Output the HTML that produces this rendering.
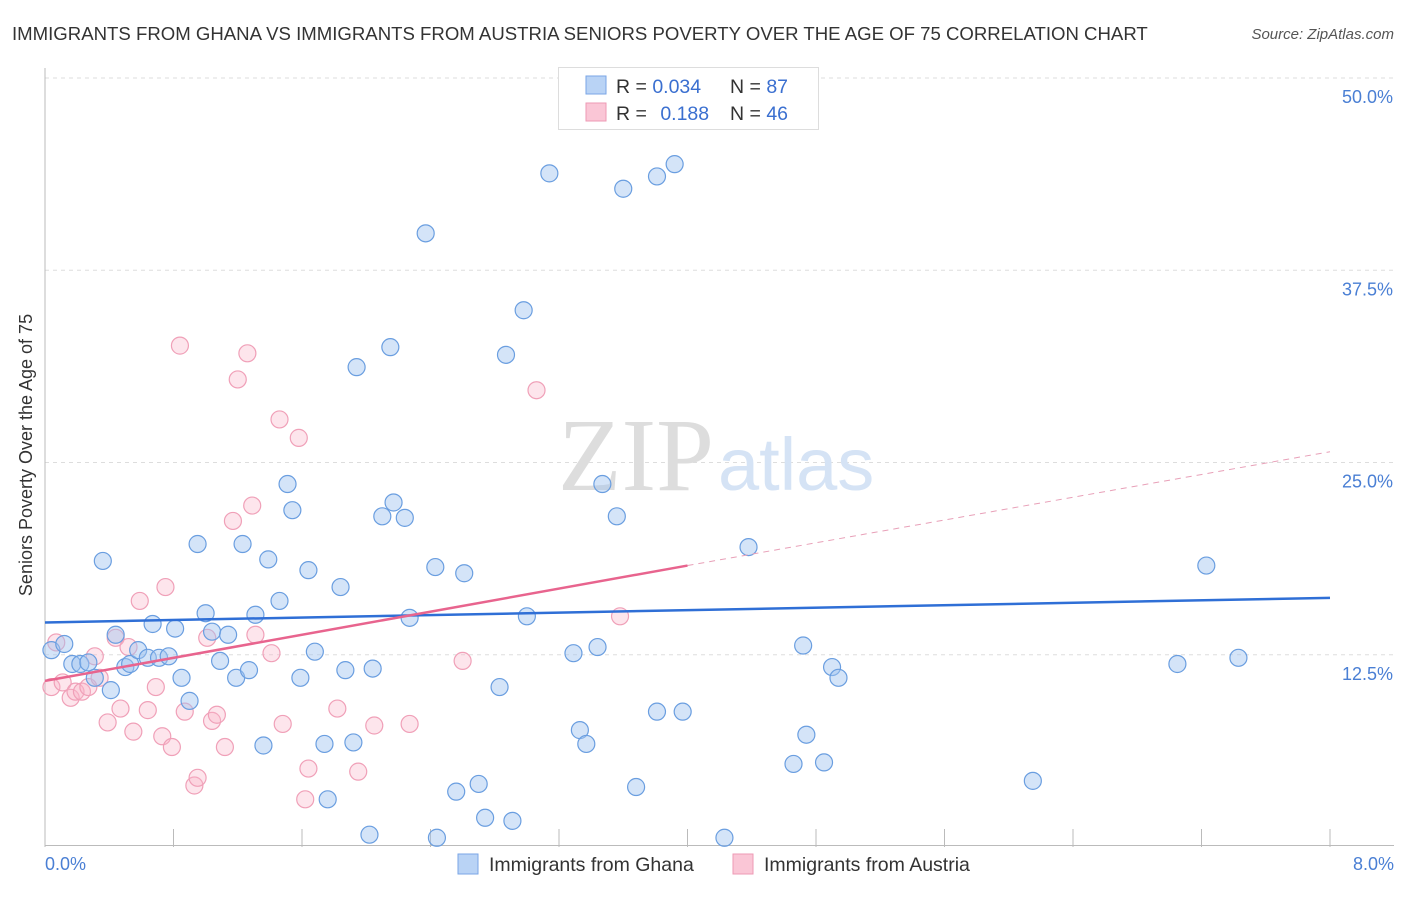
<!DOCTYPE html>
<html><head><meta charset="utf-8"><style>
body{margin:0;background:#fff;font-family:"Liberation Sans",sans-serif;}
</style></head><body>
<svg width="1406" height="892" xmlns="http://www.w3.org/2000/svg" id="chart">
<text x="12" y="40" font-size="18.6" fill="#333">IMMIGRANTS FROM GHANA VS IMMIGRANTS FROM AUSTRIA SENIORS POVERTY OVER THE AGE OF 75 CORRELATION CHART</text>
<text x="1394" y="39" font-size="15" fill="#555" font-style="italic" text-anchor="end">Source: ZipAtlas.com</text>
<g id="grid"></g>
<text x="714" y="490" font-family="Liberation Serif" font-size="104" fill="#ddd" text-anchor="end">ZIP</text>
<text x="718" y="490" font-size="74" fill="#d5e3f5">atlas</text>
<g id="pts"></g>
<g id="lines"></g>
<text x="32" y="455" font-size="18" fill="#333" text-anchor="middle" transform="rotate(-90 32 455)">Seniors Poverty Over the Age of 75</text>
<text x="45" y="870" font-size="18" fill="#4a7fd4">0.0%</text>
<text x="1394" y="870" font-size="18" fill="#4a7fd4" text-anchor="end">8.0%</text>
<g>
<rect x="558.5" y="67.5" width="260" height="62" fill="#fff" stroke="#ddd"/>
<rect x="586" y="76" width="20" height="18" fill="#b9d3f5" stroke="#7aa6e6"/>
<rect x="586" y="103" width="20" height="18" fill="#fac6d6" stroke="#ee9ab4"/>
<text x="616" y="93" font-size="19.5" fill="#333">R = <tspan fill="#3a6fd0">0.034</tspan></text>
<text x="730" y="93" font-size="19.5" fill="#333">N = <tspan fill="#3a6fd0">87</tspan></text>
<text x="616" y="120" font-size="19.5" fill="#333">R = <tspan fill="#3a6fd0" dx="8">0.188</tspan></text>
<text x="730" y="120" font-size="19.5" fill="#333">N = <tspan fill="#3a6fd0">46</tspan></text>
</g>
<g>
<rect x="458" y="854" width="20" height="20" fill="#b9d3f5" stroke="#7aa6e6"/>
<text x="489" y="871" font-size="19.5" fill="#333">Immigrants from Ghana</text>
<rect x="733" y="854" width="20" height="20" fill="#fac6d6" stroke="#ee9ab4"/>
<text x="764" y="871" font-size="19.5" fill="#333">Immigrants from Austria</text>
</g>
</svg>
<script>
const yTicks=[12.5,25,37.5,50];
const yTickLabels=["12.5%","25.0%","37.5%","50.0%"];
const xTicks=[0,0.8,1.6,2.4,3.2,4.0,4.8,5.6,6.4,7.2,8.0];
const ghanaX=[0.04,0.12,0.17,0.22,0.27,0.31,0.36,0.41,0.44,0.5,0.53,0.58,0.64,0.67,0.71,0.77,0.81,0.85,0.9,0.95,1.0,1.04,1.09,1.14,1.19,1.23,1.27,1.31,1.36,1.39,1.46,1.51,1.54,1.59,1.64,1.68,1.74,1.76,1.84,1.87,1.92,1.94,2.02,2.04,2.1,2.15,2.17,2.24,2.27,2.37,2.43,2.44,2.56,2.61,2.7,2.74,2.83,2.87,2.91,2.98,3.0,3.14,3.29,3.33,3.37,3.44,3.47,3.56,3.6,3.68,3.81,3.81,3.92,3.97,4.23,4.38,4.66,4.72,4.74,4.85,4.9,4.94,6.15,7.05,7.23,7.43];
const ghanaY=[12.8,13.2,11.9,11.9,12.0,11.0,18.6,10.2,13.8,11.7,11.9,12.8,12.3,14.5,12.3,12.4,14.2,11.0,9.5,19.7,15.2,14.0,12.1,13.8,11.0,19.7,11.5,15.1,6.6,18.7,16.0,23.6,21.9,11.0,18.0,12.7,6.7,3.1,16.9,11.5,6.8,31.2,0.8,11.6,21.5,32.5,22.4,21.4,14.9,39.9,18.2,0.6,3.6,17.8,4.1,1.9,10.4,32.0,1.7,34.9,15.0,43.8,12.6,7.6,6.7,13.0,23.6,21.5,42.8,3.9,43.6,8.8,44.4,8.8,0.6,19.5,5.4,13.1,7.3,5.5,11.7,11.0,4.3,11.9,18.3,12.3];
const austriaX=[0.04,0.07,0.11,0.16,0.19,0.23,0.27,0.31,0.34,0.39,0.44,0.47,0.52,0.55,0.59,0.64,0.69,0.73,0.75,0.79,0.84,0.87,0.93,0.95,1.01,1.04,1.07,1.12,1.17,1.2,1.26,1.29,1.31,1.41,1.46,1.48,1.58,1.62,1.64,1.82,1.95,2.05,2.27,2.6,3.06,3.58];
const austriaY=[10.4,13.3,10.7,9.7,10.1,10.1,10.4,12.4,11.0,8.1,13.6,9.0,13.0,7.5,16.0,8.9,10.4,7.2,16.9,6.5,32.6,8.8,4.0,4.5,13.6,8.2,8.6,6.5,21.2,30.4,32.1,22.2,13.8,12.6,27.8,8.0,26.6,3.1,5.1,9.0,4.9,7.9,8.0,12.1,29.7,15.0];
const ghanaTrend=[14.6,16.2];
const austriaTrend=[10.8,18.3,25.7];
const X0=45,X1=1330,Y0=847,Y1=78;
const xs=v=>X0+(v/8)*(X1-X0);
const ys=v=>Y0-(v/50)*(Y0-Y1);
const NS="http://www.w3.org/2000/svg";
function mk(tag,attrs,parent){const e=document.createElementNS(NS,tag);for(const k in attrs)e.setAttribute(k,attrs[k]);parent.appendChild(e);return e;}
const grid=document.getElementById('grid');
yTicks.forEach((t,i)=>{
 const l=mk('line',{x1:X0,x2:1394,y1:ys(t),y2:ys(t),stroke:'#ddd','stroke-dasharray':'4,4'},grid);
 
 
 const tx=mk('text',{x:1393,y:ys(t)+25,'font-size':18,fill:'#4a7fd4','text-anchor':'end'},grid);
 tx.textContent=yTickLabels[i];
 
 
});
const ax=mk('line',{x1:X0,x2:X0,y1:68,y2:Y0,stroke:'#bbb'},grid);


const bx=mk('line',{x1:X0,x2:1394,y1:Y0-1.5,y2:Y0-1.5,stroke:'#bbb'},grid);


xTicks.forEach(t=>{
 const l=mk('line',{x1:xs(t),x2:xs(t),y1:Y0-18,y2:Y0,stroke:'#bbb'},grid);
 
 
});
const pts=document.getElementById('pts');
austriaX.forEach((x,i)=>{
 const c=mk('circle',{cx:xs(x),cy:ys(austriaY[i]),r:8.5,fill:'rgba(248,180,200,0.35)',stroke:'#f0a0b8','stroke-width':1.2},pts);
 
 
});
ghanaX.forEach((x,i)=>{
 const c=mk('circle',{cx:xs(x),cy:ys(ghanaY[i]),r:8.5,fill:'rgba(160,195,240,0.45)',stroke:'#6a9ee0','stroke-width':1.2},pts);
 
 
});
const lines=document.getElementById('lines');
const g1=mk('line',{x1:xs(0),y1:ys(ghanaTrend[0]),x2:xs(8),y2:ys(ghanaTrend[1]),stroke:'#2f6fd6','stroke-width':2.5},lines);


const a1=mk('line',{x1:xs(0),y1:ys(austriaTrend[0]),x2:xs(4),y2:ys(austriaTrend[1]),stroke:'#e8648e','stroke-width':2.5},lines);


const a2=mk('line',{x1:xs(4),y1:ys(austriaTrend[1]),x2:xs(8),y2:ys(austriaTrend[2]),stroke:'#e8a0b8','stroke-width':1,'stroke-dasharray':'6,5'},lines);


</script>
</body></html>
